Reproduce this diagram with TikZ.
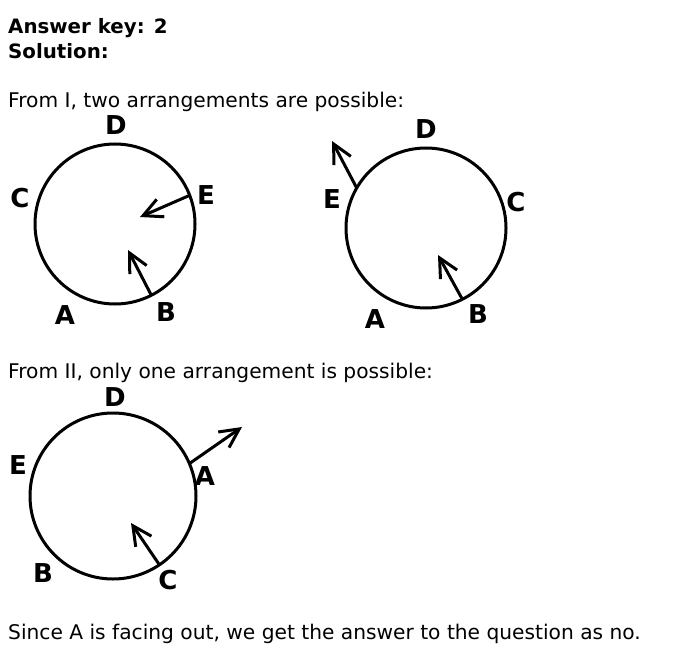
\documentclass[tikz,border=0pt]{standalone}
\usepackage{fontspec}
\setmainfont{DejaVu Sans}
\usetikzlibrary{arrows.meta}
\newcommand{\ringsize}{160pt}
\tikzstyle{ring}=[draw, circle, line width=3pt, inner sep=0, outer sep=0, minimum size=\ringsize]
\tikzstyle{seat}=[inner sep=0, outer sep=0, font=\fontsize{26}{26}\selectfont\bfseries]
\tikzstyle{facing}=[line width=3pt, -{Straight Barb[length=19pt, width=19pt]}]
\tikzstyle{line}=[inner sep=0, anchor=base west, font=\fontsize{20.2}{24}\selectfont]
\tikzstyle{head}=[line, font=\fontsize{19.8}{24}\selectfont\bfseries]

\begin{document}
\begin{tikzpicture}[x=1pt, y=-1pt]
        \useasboundingbox (0, 0) rectangle (684, 663);
        \node[head] (key)  at (8, 34)  {Answer key: 2};
        \node[head] (sol)  at (8, 59)  {Solution:};
        \node[line] (txt1) at (8, 108) {From I, two arrangements are possible:};
        \node[line] (txt2) at (8, 378) {From II, only one arrangement is possible:};
        \node[line] (txt3) at (8, 639) {Since A is facing out, we get the answer to the question as no.};
        % first arrangement
        \node[ring] (R1) at (115, 224) {};
        \node[seat] (R1D) at (116, 125) {D};
        \node[seat] (R1C) at (20, 198)  {C};
        \node[seat] (R1E) at (206, 195) {E};
        \node[seat] (R1A) at (65, 315)  {A};
        \node[seat] (R1B) at (166, 312) {B};
        \coordinate (R1e) at (140, 217);
        \coordinate (R1b) at (128, 250);
        \draw[facing] (R1.21.7) -- (R1e);
        \draw[facing] (R1.-63.8) -- (R1b);
        % second arrangement
        \node[ring] (R2) at (426, 228) {};
        \node[seat] (R2D) at (426, 129) {D};
        \node[seat] (R2E) at (332, 199) {E};
        \node[seat] (R2C) at (516, 202) {C};
        \node[seat] (R2A) at (375, 319) {A};
        \node[seat] (R2B) at (478, 314) {B};
        \coordinate (R2e) at (332, 141);
        \coordinate (R2b) at (438, 255);
        \draw[facing] (R2.150.6) -- (R2e);
        \draw[facing] (R2.-63) -- (R2b);
        % third arrangement
        \node[ring, minimum size=166pt] (R3) at (113, 496) {};
        \node[seat] (R3D) at (115, 397) {D};
        \node[seat] (R3E) at (18, 465)  {E};
        \node[seat] (R3A) at (205, 476) {A};
        \node[seat] (R3B) at (43, 573)  {B};
        \node[seat] (R3C) at (168, 580) {C};
        \coordinate (R3a) at (242, 427);
        \coordinate (R3c) at (131, 523);
        \draw[facing] (R3.23.8) -- (R3a);
        \draw[facing] (R3.-56) -- (R3c);
\end{tikzpicture}
\end{document}
